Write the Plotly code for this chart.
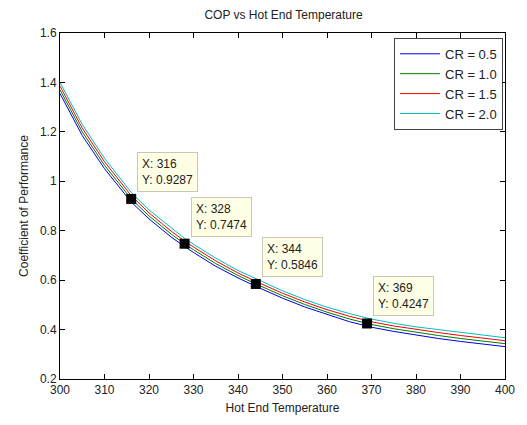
import plotly.graph_objects as go

temps = [300, 305, 310, 315, 316, 320, 325, 328, 330, 335, 340, 344, 345,
         350, 355, 360, 365, 369, 370, 375, 380, 385, 390, 395, 400]
cop_cr05 = [1.355, 1.185, 1.051, 0.936, 0.916, 0.848, 0.774, 0.736, 0.712, 0.656,
            0.609, 0.575, 0.5665, 0.527, 0.4915, 0.4605, 0.432, 0.414, 0.4095,
            0.3925, 0.378, 0.364, 0.352, 0.341, 0.331]
cop_cr10 = [1.370, 1.200, 1.065, 0.949, 0.9287, 0.860, 0.786, 0.7474, 0.723, 0.667,
            0.619, 0.5846, 0.5765, 0.537, 0.5015, 0.4705, 0.443, 0.4247, 0.4205,
            0.4035, 0.389, 0.376, 0.364, 0.353, 0.343]
cop_cr15 = [1.385, 1.215, 1.079, 0.962, 0.942, 0.872, 0.798, 0.758, 0.734, 0.678,
            0.629, 0.595, 0.5865, 0.547, 0.5115, 0.4805, 0.454, 0.436, 0.4315,
            0.4145, 0.400, 0.388, 0.376, 0.365, 0.355]
cop_cr20 = [1.400, 1.230, 1.093, 0.975, 0.955, 0.884, 0.810, 0.769, 0.745, 0.689,
            0.639, 0.605, 0.5965, 0.557, 0.5215, 0.4905, 0.465, 0.447, 0.4425,
            0.4255, 0.411, 0.400, 0.388, 0.377, 0.367]
series_names = ["CR = 0.5", "CR = 1.0", "CR = 1.5", "CR = 2.0"]
series_colors = ["#0000e6", "#007a00", "#f00000", "#00bfbf"]

cursor_x = [316, 328, 344, 369]
cursor_y = [0.9287, 0.7474, 0.5846, 0.4247]

FONT = "Liberation Sans, Arial, Helvetica, sans-serif"
TXT = "#222222"

fig = go.Figure()
for name, color, vals in zip(series_names, series_colors,
                             [cop_cr05, cop_cr10, cop_cr15, cop_cr20]):
    fig.add_trace(go.Scatter(x=temps, y=vals, mode="lines", name=name,
                             line=dict(color=color, width=1)))

fig.add_trace(go.Scatter(x=cursor_x, y=cursor_y, mode="markers", showlegend=False,
                         marker=dict(symbol="square", size=10, color="black"),
                         hoverinfo="skip"))

for cx, cy in zip(cursor_x, cursor_y):
    fig.add_annotation(x=cx, y=cy, xref="x", yref="y",
                       text=f"X: {cx}<br>Y: {cy}", showarrow=False,
                       xanchor="left", yanchor="bottom", align="left",
                       xshift=6, yshift=7,
                       bgcolor="#ffffe6", bordercolor="#c8c8b4", borderwidth=1,
                       borderpad=4,
                       font=dict(family=FONT, size=12, color=TXT))

axis_common = dict(showline=True, linecolor="black", linewidth=1, mirror="ticks",
                   ticks="inside", ticklen=5, tickcolor="black", showgrid=False,
                   zeroline=False, tickfont=dict(family=FONT, size=12, color=TXT))

fig.update_layout(
    width=527, height=425,
    margin=dict(l=60, r=19, t=33, b=38),
    paper_bgcolor="white", plot_bgcolor="white",
    title=dict(text="COP vs Hot End Temperature", x=0.538, xanchor="center",
               y=0.965, yanchor="middle",
               font=dict(family=FONT, size=12, color=TXT)),
    xaxis=dict(range=[300, 400], tick0=300, dtick=10,
               title=dict(text="Hot End Temperature", standoff=7,
                          font=dict(family=FONT, size=12, color=TXT)),
               **axis_common),
    yaxis=dict(range=[0.2, 1.6], tick0=0.2, dtick=0.2,
               title=dict(text="Coefficient of Performance", standoff=8,
                          font=dict(family=FONT, size=12, color=TXT)),
               **axis_common),
    legend=dict(x=0.9955, y=0.986, xanchor="right", yanchor="top",
                bordercolor="#444444", borderwidth=1, bgcolor="white",
                font=dict(family=FONT, size=13, color=TXT),
                tracegroupgap=0, itemwidth=40),
    showlegend=True,
)

fig.write_html("out.html",
               config={"displayModeBar": False},
               post_script="document.body.style.margin='0';"
                           "document.body.style.overflow='hidden';")
